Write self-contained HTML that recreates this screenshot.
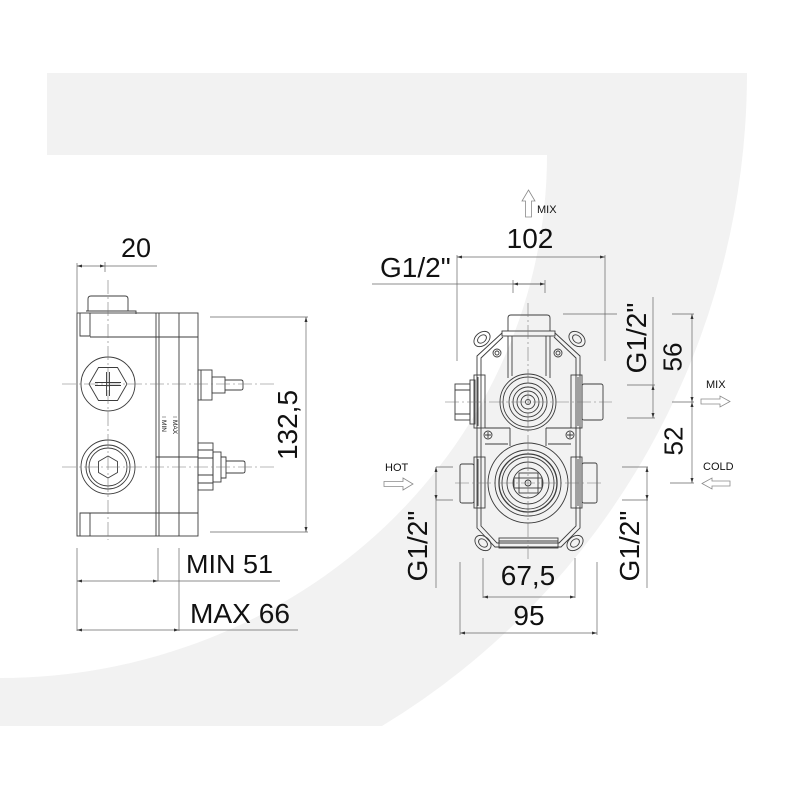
<!DOCTYPE html>
<html><head><meta charset="utf-8"><style>
html,body{margin:0;padding:0;background:#fff;}
svg{display:block;}
text{font-family:"Liberation Sans",Arial,sans-serif;fill:#111;}
</style></head><body>
<svg width="800" height="800" viewBox="0 0 800 800" xmlns="http://www.w3.org/2000/svg">
<defs>
<marker id="a" viewBox="0 0 10 6" refX="10" refY="3" markerWidth="5" markerHeight="3" orient="auto-start-reverse" markerUnits="userSpaceOnUse"><path d="M0 0 L10 3 L0 6 Z" fill="#333"/></marker>
</defs>
<rect width="800" height="800" fill="#fff"/>
<path d="M47 73 H747 A747 760 0 0 1 382 726 H0 V678 A547 523 0 0 0 547 155 H47 Z" fill="#f2f2f2"/>

<!-- ============ LEFT (side) VIEW ============ -->
<g fill="none" stroke="#3c3c3c" stroke-width="0.9">
<rect x="77" y="313" width="121" height="223"/>
<path d="M80 313V336H90V313M80 536V513H90V536"/>
<path d="M90 337H198M90 513H198M156 457H198"/>
<path d="M156 313V536M159 313V536M179 313V536"/>
<path d="M88 311V299Q88 296 91 296H125Q128 296 128 299V311"/>
<path d="M86 311H136V314"/>
<circle cx="108" cy="384" r="27"/>
<polygon points="89,384 98.5,367.5 117.5,367.5 127,384 117.5,400.5 98.5,400.5"/>
<path d="M95 382.5H121M95 385.5H121M106.5 372V396M109.5 372V396"/>
<circle cx="108" cy="467" r="27"/>
<circle cx="108" cy="467" r="22"/>
<circle cx="108" cy="467" r="19"/>
<polygon points="98.5,461.5 108,456 117.5,461.5 117.5,472.5 108,478 98.5,472.5"/>
<rect x="198" y="370" width="14" height="30"/>
<path d="M201 370V400"/>
<rect x="212" y="377" width="13" height="16"/>
<path d="M225 380H241Q243 380 243 382V388Q243 390 241 390H225"/>
<rect x="198" y="443" width="15" height="47"/>
<path d="M198 450H213M198 458H213M198 475H213M198 483H213"/>
<rect x="213" y="452" width="8" height="30"/>
<path d="M221 457H226V478H221"/>
<path d="M226 461H243Q245 461 245 463V471Q245 473 243 473H226"/>
<path d="M162 417H166M173 417H177" stroke-width="0.6"/>
</g>
<text transform="translate(162,420) rotate(90)" font-size="6.5">MIN</text>
<text transform="translate(173,420) rotate(90)" font-size="6.5">MAX</text>
<g fill="none" stroke="#777" stroke-width="0.6" stroke-dasharray="14 3 2 3">
<path d="M62 384H274M62 467H274M108 280V540"/>
</g>

<!-- left dims -->
<g fill="none" stroke="#666" stroke-width="0.7">
<path d="M77 263V313M105 262V272"/>
<path d="M77 266H105" marker-start="url(#a)" marker-end="url(#a)"/>
<path d="M105 266H157"/>
<path d="M210 317H308M210 532H308"/>
<path d="M306 317V532" marker-start="url(#a)" marker-end="url(#a)"/>
<path d="M77 548V631M158 548V581M179 548V631"/>
<path d="M77 581H158" marker-start="url(#a)" marker-end="url(#a)"/>
<path d="M158 581H280"/>
<path d="M77 630H179" marker-start="url(#a)" marker-end="url(#a)"/>
<path d="M179 630H298"/>
</g>
<text x="136" y="257" font-size="27" text-anchor="middle">20</text>
<text transform="translate(287,425) rotate(-90)" x="0" y="10" font-size="28" text-anchor="middle">132,5</text>
<text x="186" y="573" font-size="26" textLength="87" lengthAdjust="spacingAndGlyphs">MIN 51</text>
<text x="190" y="623" font-size="28" textLength="100" lengthAdjust="spacingAndGlyphs">MAX 66</text>

<!-- ============ RIGHT (front) VIEW ============ -->
<g fill="none" stroke="#3c3c3c" stroke-width="0.9">
<path d="M502 333 L477 356 V528 L495 547 H561 L580 528 V356 L555 333"/>
<path d="M503 337 L481 358 V526 L497 543 H559 L576 526 V358 L554 337"/>
<ellipse cx="482" cy="339" rx="9" ry="6.5" transform="rotate(-40 482 339)"/>
<ellipse cx="482" cy="339" rx="5" ry="3.5" transform="rotate(-40 482 339)"/>
<ellipse cx="577" cy="339" rx="9" ry="6.5" transform="rotate(40 577 339)"/>
<ellipse cx="577" cy="339" rx="5" ry="3.5" transform="rotate(40 577 339)"/>
<ellipse cx="483" cy="543" rx="9" ry="6.5" transform="rotate(40 483 543)"/>
<ellipse cx="483" cy="543" rx="5" ry="3.5" transform="rotate(40 483 543)"/>
<ellipse cx="575" cy="543" rx="9" ry="6.5" transform="rotate(-40 575 543)"/>
<ellipse cx="575" cy="543" rx="5" ry="3.5" transform="rotate(-40 575 543)"/>
<path d="M508 331V318Q508 315 511 315H547Q550 315 550 318V331"/>
<rect x="502" y="331" width="53" height="5"/>
<path d="M508 336V378M550 336V378M512 336V376M546 336V376"/>
<rect x="474" y="375" width="11" height="53"/>
<path d="M478 377V426"/>
<rect x="571" y="375" width="11" height="53"/>
<path d="M578 377V426"/>
<rect x="455" y="384" width="15" height="36"/>
<rect x="470" y="380" width="5" height="44"/>
<path d="M455 390H470M455 414H470"/>
<rect x="582" y="384" width="21" height="36" rx="2"/>
<circle cx="528" cy="402" r="28"/>
<circle cx="528" cy="402" r="25"/>
<circle cx="528" cy="402" r="19"/>
<circle cx="528" cy="402" r="15"/>
<circle cx="528" cy="402" r="11"/>
<circle cx="528" cy="402" r="7"/>
<circle cx="528" cy="402" r="2.5"/>
<path d="M485 428H510M546 428H571M485 444H508M548 444H571M510 428V446M546 428V446"/>
<circle cx="497" cy="353" r="4"/><circle cx="497" cy="353" r="2"/>
<circle cx="558" cy="353" r="4"/><circle cx="558" cy="353" r="2"/>
<circle cx="488" cy="435" r="4"/><path d="M485 435H491M488 432V438"/>
<circle cx="570" cy="435" r="4"/><path d="M567 435H573M570 432V438"/>
<rect x="474" y="457" width="11" height="51"/>
<path d="M478 459V506"/>
<rect x="571" y="457" width="11" height="51"/>
<path d="M578 459V506"/>
<rect x="460" y="464" width="14" height="39" rx="2"/>
<rect x="582" y="463" width="15" height="40" rx="2"/>
<circle cx="528" cy="483" r="40"/>
<circle cx="528" cy="483" r="33"/>
<circle cx="528" cy="483" r="29" stroke-width="1.3"/>
<circle cx="528" cy="483" r="26"/>
<circle cx="528" cy="483" r="21"/>
<circle cx="528" cy="483" r="15"/>
<rect x="514" y="478" width="28" height="10"/>
<rect x="519" y="473" width="19" height="20"/>
<circle cx="528" cy="483" r="3"/>
<rect x="499" y="538" width="59" height="10"/>
<path d="M499 541H558"/>
</g>
<g fill="none" stroke="#777" stroke-width="0.6" stroke-dasharray="14 3 2 3">
<path d="M528 303V562M445 402H612M455 483H604"/>
</g>

<!-- right dims -->
<g fill="none" stroke="#666" stroke-width="0.7">
<path d="M457 255V361M605 255V361"/>
<path d="M457 257H605" marker-start="url(#a)" marker-end="url(#a)"/>
<path d="M372 284H543"/>
<path d="M513 280V293M545 280V293"/>
<path d="M513 284H545" marker-start="url(#a)" marker-end="url(#a)"/>
<path d="M563 314H617"/>
<path d="M653 297V385"/>
<path d="M627 385H655M627 418H655"/>
<path d="M653 385V418" marker-start="url(#a)" marker-end="url(#a)"/>
<path d="M672 314H694M672 402H694M670 483H694"/>
<path d="M692 314V402" marker-start="url(#a)" marker-end="url(#a)"/>
<path d="M692 402V483" marker-start="url(#a)" marker-end="url(#a)"/>
<path d="M436 467H453M436 500H453"/>
<path d="M436 467V500" marker-start="url(#a)" marker-end="url(#a)"/>
<path d="M436 500V588"/>
<path d="M622 467H648M622 500H648"/>
<path d="M647 467V500" marker-start="url(#a)" marker-end="url(#a)"/>
<path d="M647 500V588"/>
<path d="M483 558V598M575 558V598"/>
<path d="M483 597H575" marker-start="url(#a)" marker-end="url(#a)"/>
<path d="M460 562V635M597 562V635"/>
<path d="M460 633H597" marker-start="url(#a)" marker-end="url(#a)"/>
</g>
<g fill="none" stroke="#8a8a8a" stroke-width="0.8">
<polygon points="528.5,190 535,201 531.5,201 531.5,217 525.5,217 525.5,201 522,201"/>
<polygon points="701,399 720,399 720,396 730,401.5 720,407 720,404 701,404"/>
<polygon points="730,481 712,481 712,478 702,483.5 712,489 712,486 730,486"/>
<polygon points="384,481.5 403,481.5 403,478 413,484 403,490 403,486.5 384,486.5"/>
</g>
<text x="537" y="213" font-size="11">MIX</text>
<text x="706" y="388" font-size="11">MIX</text>
<text x="703" y="470" font-size="11">COLD</text>
<text x="385" y="471" font-size="11">HOT</text>
<text x="530" y="248" font-size="28" text-anchor="middle">102</text>
<text x="380" y="277" font-size="28">G1/2"</text>
<text transform="translate(636,338) rotate(-90)" x="0" y="10" font-size="28" text-anchor="middle">G1/2"</text>
<text transform="translate(672,357) rotate(-90)" x="0" y="9.5" font-size="26" text-anchor="middle">56</text>
<text transform="translate(673,441) rotate(-90)" x="0" y="9.5" font-size="26" text-anchor="middle">52</text>
<text transform="translate(417,546) rotate(-90)" x="0" y="10" font-size="28" text-anchor="middle">G1/2"</text>
<text transform="translate(629,546) rotate(-90)" x="0" y="10" font-size="28" text-anchor="middle">G1/2"</text>
<text x="528" y="585" font-size="28" text-anchor="middle">67,5</text>
<text x="529" y="625" font-size="28" text-anchor="middle">95</text>
</svg>
</body></html>
